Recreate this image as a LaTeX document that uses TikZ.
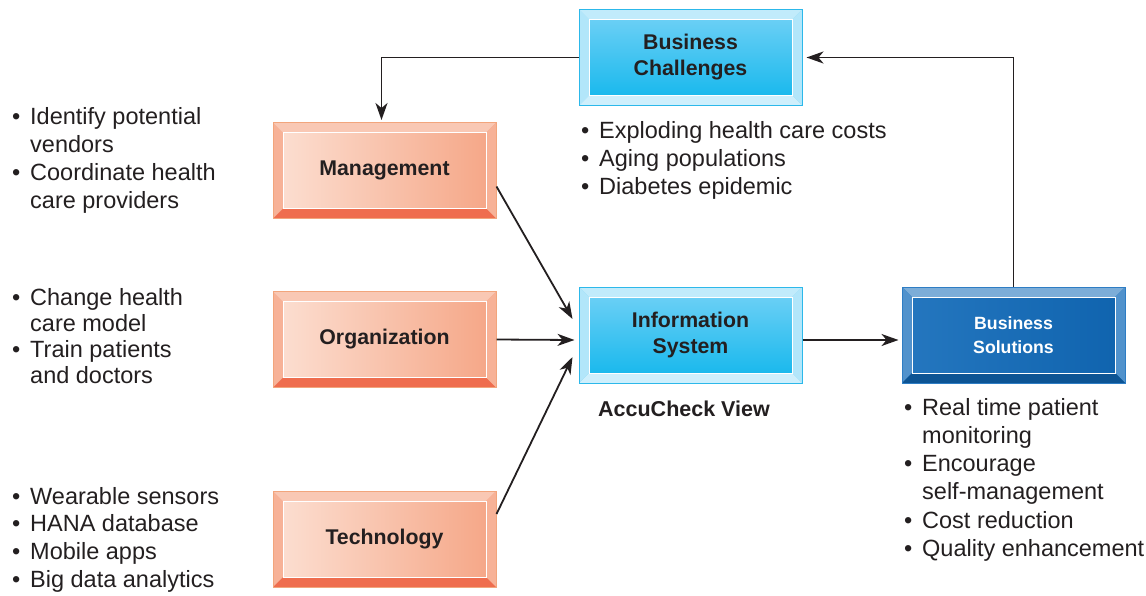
\documentclass[tikz,border=0pt]{standalone}
\usepackage{fontspec}
\setmainfont{Liberation Sans}
\usepackage{tikz}
\usetikzlibrary{arrows.meta,calc,positioning}
\definecolor{Ink}{HTML}{231F20}
\definecolor{PeachLight}{HTML}{FCE0D3}
\definecolor{PeachDark}{HTML}{F5A585}
\definecolor{PeachEdge}{HTML}{F2A57C}
\definecolor{PeachShadow}{HTML}{EF6D4E}
\definecolor{SkyLight}{HTML}{74D2F6}
\definecolor{SkyDark}{HTML}{10B6EC}
\definecolor{SkyEdge}{HTML}{2CB8EA}
\definecolor{NavyLight}{HTML}{2577BF}
\definecolor{NavyDark}{HTML}{0F63AE}
\definecolor{NavyEdge}{HTML}{2E7DC4}
\newcommand{\itm}{\makebox[18pt][l]{\textbullet}}
\newcommand{\cnt}{\hspace*{18pt}}

\begin{document}
\begin{tikzpicture}[x=1pt,y=-1pt,
    every node/.style={text=Ink},
    bevel/.style n args={3}{path picture={
        \coordinate (pnw) at (path picture bounding box.north west);
        \coordinate (pne) at (path picture bounding box.north east);
        \coordinate (psw) at (path picture bounding box.south west);
        \coordinate (pse) at (path picture bounding box.south east);
        \fill[#1] (pnw) -- (pne) -- ($(pne)+(-10pt,-10pt)$) -- ($(pnw)+(10pt,-10pt)$) -- cycle;
        \fill[#2] (pnw) -- ($(pnw)+(10pt,-10pt)$) -- ($(psw)+(10pt,10pt)$) -- (psw) -- cycle;
        \fill[#2] (pne) -- ($(pne)+(-10pt,-10pt)$) -- ($(pse)+(-10pt,10pt)$) -- (pse) -- cycle;
        \fill[#3] (psw) -- ($(psw)+(10pt,10pt)$) -- ($(pse)+(-10pt,10pt)$) -- (pse) -- cycle;
        \draw[white!60,line width=0.6pt] ($(pnw)+(10pt,-10pt)$) rectangle ($(pse)+(-10pt,10pt)$);
      }},
    box/.style={minimum width=223,minimum height=96,line width=1pt,align=center,
                font=\fontsize{21.3}{26}\selectfont\bfseries},
    orangebox/.style={box,draw=PeachEdge,left color=PeachLight,right color=PeachDark,
                      bevel={PeachLight!60!PeachDark}{PeachDark!85}{PeachShadow}},
    lightbox/.style={box,draw=SkyEdge,shading=axis,shading angle=135,
                     top color=SkyLight,bottom color=SkyDark,
                     bevel={white!55!SkyLight}{white!45!SkyLight}{white!65!SkyLight}},
    darkbox/.style={box,draw=NavyEdge,left color=NavyLight,right color=NavyDark,
                    text=white,font=\fontsize{17.7}{24}\selectfont\bfseries,
                    bevel={NavyLight!60!white}{NavyLight!80!white}{NavyDark!85!black}},
    bullets/.style={anchor=north west,inner sep=0pt,align=left,
                    font=\fontsize{23.5}{28}\selectfont},
    link/.style={-{Stealth[length=17pt,width=12pt,inset=5pt]},line width=1.8pt,draw=Ink}]

  \useasboundingbox (0,0) rectangle (1146,595);

  % boxes
  \node[lightbox] (challenges) at (690.5,57.5) {Business\\Challenges};
  \node[orangebox] (management) at (384.5,170.5) {Management};
  \node[orangebox] (organization) at (384.5,339.5) {Organization};
  \node[orangebox] (technology) at (384.5,539) {Technology};
  \node[lightbox] (infosys) at (690.5,335) {Information\\System};
  \node[darkbox] (solutions) at (1013.5,335) {Business\\Solutions};
  \node[font=\fontsize{21.5}{24}\selectfont\bfseries] (accucheck) at (684,409) {AccuCheck View};

  % bullet lists
  \node[bullets] (mgmtlist) at (12,107) {\itm Identify potential\\\cnt vendors\\\itm Coordinate health\\\cnt care providers};
  \node[bullets,font=\fontsize{23.5}{26}\selectfont] (orglist) at (12,288) {\itm Change health\\\cnt care model\\\itm Train patients\\\cnt and doctors};
  \node[bullets,font=\fontsize{23.5}{27.7}\selectfont] (techlist) at (12,487) {\itm Wearable sensors\\\itm HANA database\\\itm Mobile apps\\\itm Big data analytics};
  \node[bullets] (challist) at (581,121) {\itm Exploding health care costs\\\itm Aging populations\\\itm Diabetes epidemic};
  \node[bullets,font=\fontsize{23.5}{28.2}\selectfont] (sollist) at (904,398) {\itm Real time patient\\\cnt monitoring\\\itm Encourage\\\cnt self-management\\\itm Cost reduction\\\itm Quality enhancement};

  % connectors
  \coordinate (chalcorner) at (381.5,57.5);
  \coordinate (solcorner) at (1013.5,57.5);
  \draw[link] (challenges.west) -- (chalcorner) -- ($(management.north -| chalcorner)+(0,-2)$);
  \draw[link] (solutions.north) -- (solcorner) -- ($(challenges.east)+(4,0)$);
  \draw[link] ($(management.east)+(0,16)$) -- ($(infosys.west)+(-6,-16)$);
  \draw[link] (organization.east) -- ($(infosys.west)+(-4,5)$);
  \draw[link] ($(technology.east)+(0,-25)$) -- ($(infosys.west)+(-6,22)$);
  \draw[link] ($(infosys.east)+(0,5)$) -- ($(solutions.west)+(-3,5)$);
\end{tikzpicture}
\end{document}
